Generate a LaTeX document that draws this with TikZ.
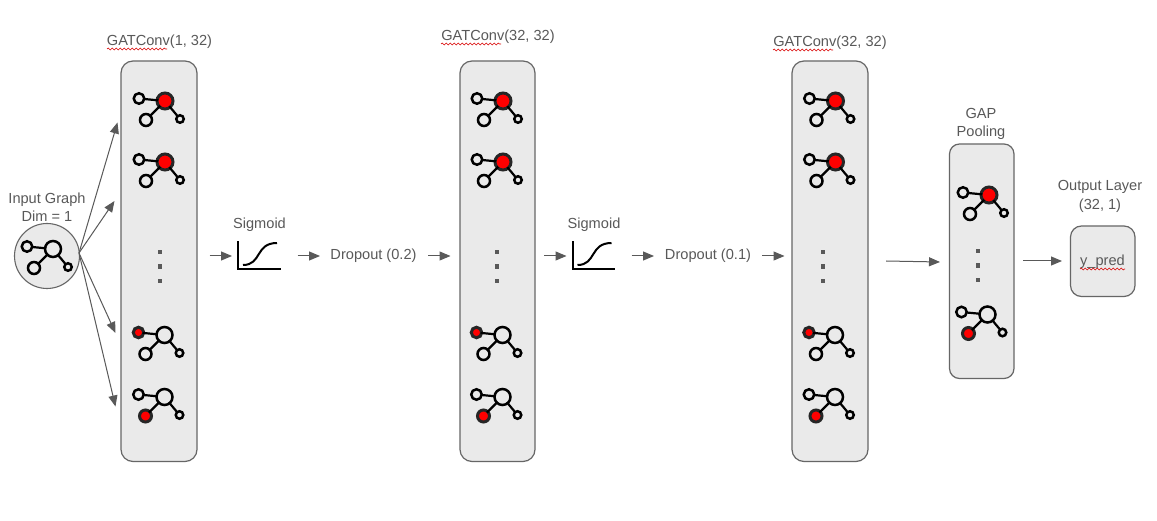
\documentclass[tikz,border=0pt]{standalone}
\usepackage{fontspec}
\setmainfont{Liberation Sans}
\usetikzlibrary{arrows.meta,decorations.pathmorphing}
\definecolor{txt}{HTML}{595959}
\definecolor{boxfill}{HTML}{EAEAEA}
\definecolor{boxline}{HTML}{666666}
\tikzset{
  layerbox/.style={draw=boxline,fill=boxfill,line width=1.2pt},
  label/.style={text=txt,font=\fontsize{14.6}{18.2}\selectfont,inner sep=0pt,align=center},
  flow/.style={draw=txt,line width=1pt,-{Triangle[length=11pt,width=9pt,fill=txt]},shorten >=0pt},
  gn/.style={circle,draw=black,line width=2.5pt,inner sep=0pt,outer sep=0pt,minimum size=#1},
  red on/.style={fill=red,draw=black!85,line width=3pt},
  off/.style={},
  edgeln/.style={draw=black,line width=2.2pt,shorten >=-1.2pt,shorten <=-1.2pt},
  dotmark/.style={fill=txt,inner sep=0pt,minimum size=4.4pt,rectangle},
  axisln/.style={draw=black,line width=2pt},
  spell/.style={draw=red!85!black,line width=.6pt,decorate,decoration={snake,segment length=4pt,amplitude=.9pt}}
}
% name, x, y, hub style, left style, lower style
\newcommand{\graphicon}[6]{%
  \begin{scope}[shift={(#2,#3)}]
    \node[gn=16pt,#4] (#1h) at (0,0) {};
    \node[gn=10.5pt,#5] (#1l) at (-26,-2.5) {};
    \node[gn=12pt,#6] (#1b) at (-19,19) {};
    \node[gn=7.5pt]   (#1r) at (15,18) {};
    \draw[edgeln] (#1h) -- (#1l);
    \draw[edgeln] (#1h) -- (#1b);
    \draw[edgeln] (#1h) -- (#1r);
  \end{scope}}
\newcommand{\dotcolumn}[3]{%
  \node[dotmark] (#1a) at (#2,#3) {};
  \node[dotmark] (#1b) at (#2,#3+14.5) {};
  \node[dotmark] (#1c) at (#2,#3+29) {};}
\newcommand{\sigmoidplot}[2]{%
  \begin{scope}[shift={(#2,0)}]
    \coordinate (#1o) at (238,269);
    \coordinate (#1t) at (238,241.5);
    \coordinate (#1e) at (280.5,269);
    \coordinate (#1s) at (243,265);
    \coordinate (#1f) at (277,243);
    \draw[axisln] (#1t) -- (#1o) -- (#1e);
    \draw[axisln] (#1s) .. controls (262,265) and (255,243) .. (#1f);
  \end{scope}}
\begin{document}
\begin{tikzpicture}[x=1pt,y=-1pt]
\useasboundingbox (0,0) rectangle (1157,521);
\fill[white] (0,0) rectangle (1157,521);

% boxes
\draw[layerbox,rounded corners=12pt] (121,61) rectangle (197,461.5);
\draw[layerbox,rounded corners=12pt] (460,61) rectangle (535,461.5);
\draw[layerbox,rounded corners=12pt] (792,61) rectangle (868,461.5);
\draw[layerbox,rounded corners=10pt] (949.5,144) rectangle (1014,378.5);
\draw[layerbox,rounded corners=11pt] (1070.5,226) rectangle (1135,296.5);
\node[circle,draw=boxline,fill=boxfill,line width=1.1pt,inner sep=0pt,minimum size=65pt] (inp) at (47,256) {};

% icons
\graphicon{ig}{53}{249}{off}{off}{off}
\foreach \p/\dx in {a/0,c/338,e/670.5}{
  \graphicon{\p1}{165+\dx}{101}{red on}{off}{off}
  \graphicon{\p2}{165+\dx}{162}{red on}{off}{off}
  \graphicon{\p3}{164.5+\dx}{335}{off}{red on}{off}
  \graphicon{\p4}{164.5+\dx}{397}{off}{off}{red on}
}
\graphicon{g1}{989}{195}{red on}{off}{off}
\graphicon{g2}{987.5}{314.5}{off}{off}{red on}

% dots
\dotcolumn{da}{160}{252}
\dotcolumn{dc}{497}{252}
\dotcolumn{de}{823}{252}
\dotcolumn{dg}{978}{251}

% sigmoid plots
\sigmoidplot{sa}{0}
\sigmoidplot{sb}{334.5}

% labels
\node[label] (t1) at (159.5,41.5) {GATConv(1, 32)};
\node[label] (t2) at (498,36.5) {GATConv(32, 32)};
\node[label] (t3) at (830,42.5) {GATConv(32, 32)};
\node[label] (ti) at (47,207.5) {Input Graph\\Dim = 1};
\node[label] (s1) at (259.5,224.5) {Sigmoid};
\node[label] (s2) at (594,224.5) {Sigmoid};
\node[label] (d1) at (373.5,255.5) {Dropout (0.2)};
\node[label] (d2) at (708,255.5) {Dropout (0.1)};
\node[label] (tg) at (981,124) {GAP\\Pooling};
\node[label] (to) at (1100,196.5) {Output Layer\\(32, 1)};
\node[label] (yp) at (1102.5,262) {y\_pred};

% spell-check underlines
\coordinate (w1a) at (107,49); \coordinate (w1b) at (167,49);
\coordinate (w2a) at (441,44); \coordinate (w2b) at (501,44);
\coordinate (w3a) at (773,50); \coordinate (w3b) at (833,50);
\coordinate (w4a) at (1080,269); \coordinate (w4b) at (1125,269);
\draw[spell] (w1a) -- (w1b);
\draw[spell] (w2a) -- (w2b);
\draw[spell] (w3a) -- (w3b);
\draw[spell] (w4a) -- (w4b);

% input arrows
\coordinate (from) at (79,253);
\coordinate (i1) at (117.5,122.5);
\coordinate (i2) at (114.5,201);
\coordinate (i3) at (115.5,333);
\coordinate (i4) at (115.5,406.5);
\draw[flow] (from) -- (i1);
\draw[flow] (from) -- (i2);
\draw[flow] (from) -- (i3);
\draw[flow] (from) -- (i4);

% flow arrows
\foreach \n/\xa/\xb/\ya/\yb in {f1/209.5/232/256/256,f2/297.5/320/256/256,f3/428/450.5/256/256,
  f4/544/566.5/256/256,f5/631.5/654/256/256,f6/762/784.5/256/256,f7/886/940/261/262,f8/1023/1062/261/261}{
  \coordinate (\n a) at (\xa,\ya);
  \coordinate (\n b) at (\xb,\yb);
  \draw[flow] (\n a) -- (\n b);
}
\end{tikzpicture}
\end{document}
